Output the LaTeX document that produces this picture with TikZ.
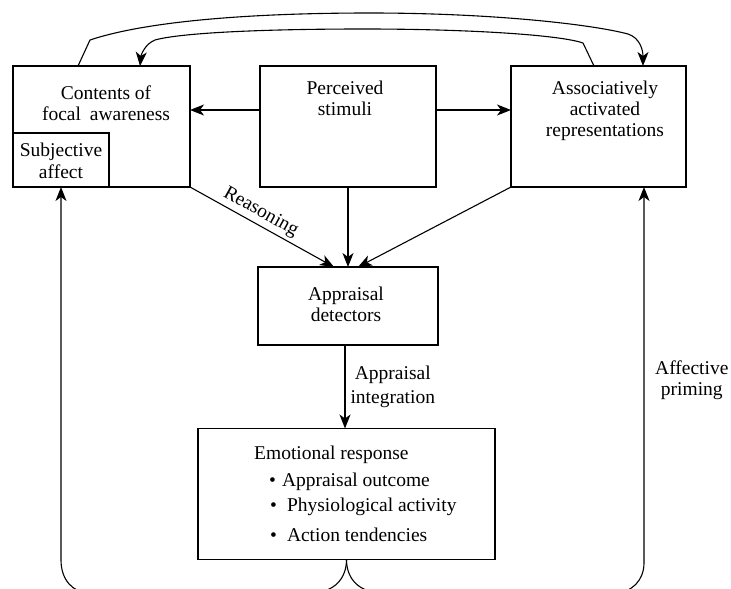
\documentclass[tikz,border=0pt]{standalone}
\usepackage{fontspec}
\setmainfont{Liberation Serif}
\usetikzlibrary{arrows.meta}
\begin{document}
\begin{tikzpicture}[x=1pt,y=-1pt,
  box/.style={draw, line width=1.1pt, inner sep=0pt, outer sep=0pt},
  txt/.style={align=center, font=\fontsize{19.5}{21}\selectfont, inner sep=0pt},
  conn/.style={line width=1.1pt, -{Stealth[length=14pt,width=11pt,inset=4pt]}},
  plain/.style={line width=1.1pt}]
\useasboundingbox (0,0) rectangle (731,589);
\clip (0,0) rectangle (731,589);
% boxes
\node[box, minimum width=177pt, minimum height=121pt] (cfa) at (101.5,126.5) {};
\node[box, minimum width=96pt, minimum height=54pt] (sa) at (61,160) {};
\node[box, minimum width=176pt, minimum height=121pt] (ps) at (348,126.5) {};
\node[box, minimum width=175pt, minimum height=121pt] (aar) at (598.5,126.5) {};
\node[box, minimum width=180pt, minimum height=78pt] (appr) at (348,306) {};
\node[box, minimum width=297pt, minimum height=131pt] (emo) at (346.5,494) {};
% texts
\node[txt] (cfaT) at (106,103) {Contents of\\focal\hspace{4pt} awareness};
\node[txt, font=\fontsize{19.5}{22}\selectfont] (saT) at (61,161) {Subjective\\affect};
\node[txt] (psT) at (345,98) {Perceived\\stimuli};
\node[txt] (aarT) at (605,111) {Associatively\\activated\\representations};
\node[txt] (apprT) at (346,304) {Appraisal\\detectors};
\node[txt, align=left, anchor=north west] (emoT) at (254,446)
  {Emotional response\\[6pt]
   \hspace{15pt}\textbullet\hspace{6pt}Appraisal outcome\\[4pt]
   \hspace{16pt}\textbullet\hspace{10pt}Physiological activity\\[9pt]
   \hspace{16pt}\textbullet\hspace{10pt}Action tendencies};
\node[txt, anchor=west] (apT) at (655,380) {Affective\\priming};
% connectors
\draw[conn] ([yshift=16.5pt]ps.west) -- ([yshift=16.5pt]cfa.east);
\draw[conn] ([yshift=16.5pt]ps.east) -- ([yshift=16.5pt]aar.west);
\draw[conn] (ps.south) -- (appr.north);
\draw[conn] (cfa.south east) -- node[txt, sloped, above, pos=0.45, inner sep=3pt] (rsn) {Reasoning} ([xshift=-14pt]appr.north);
\draw[conn] (aar.south west) -- ([xshift=10pt]appr.north);
\draw[conn] ([xshift=-3pt]appr.south) -- node[txt, right, inner sep=5pt] (aiT) {Appraisal\\[3pt]integration} ([xshift=-1.5pt]emo.north);
% top arcs
\draw[conn] ([xshift=65pt]cfa.north west) -- (90,40)
  .. controls (150,20) and (260,13) .. (370,13)
  .. controls (490,13) and (590,24) .. (628,34)
  .. controls (640,38) and (643,50) .. ([xshift=132pt]aar.north west);
\draw[conn] ([xshift=83pt]aar.north west) -- (583,43)
  .. controls (560,35) and (470,29) .. (364,29)
  .. controls (260,29) and (180,33) .. (155,40)
  .. controls (145,44) and (141,55) .. ([xshift=127pt]cfa.north west);
% bottom loops
\draw[conn] (emo.south) .. controls (346.5,578) and (335,592) .. (312,593)
  -- (90,593) .. controls (73,593) and (61,580) .. (61,560) -- (sa.south);
\draw[conn] (emo.south) .. controls (346.5,578) and (358,592) .. (381,593)
  -- (614,593) .. controls (632,593) and (644,580) .. (644,563) -- ([xshift=133pt]aar.south west);
\end{tikzpicture}
\end{document}
